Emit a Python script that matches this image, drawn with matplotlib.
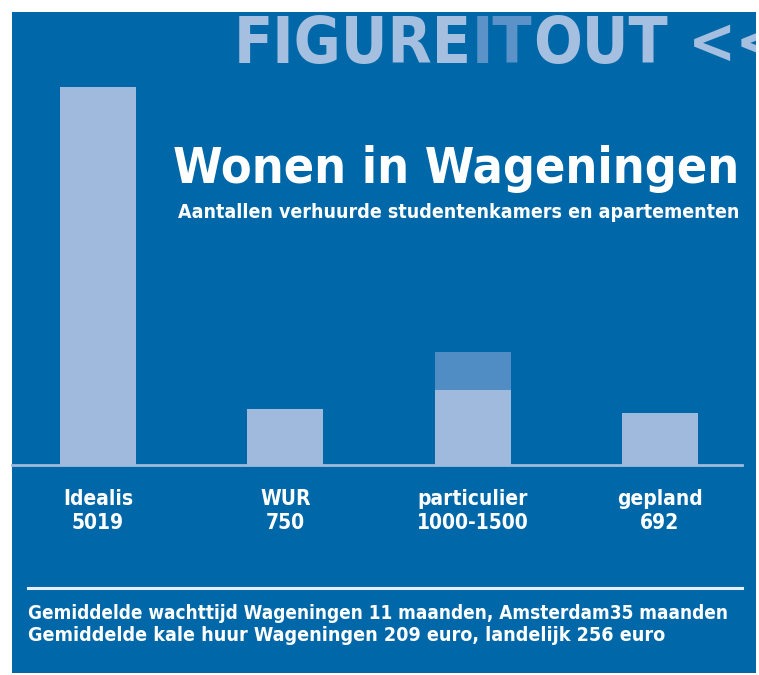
import matplotlib
matplotlib.use('Agg')
import matplotlib.pyplot as plt
from matplotlib.patches import Rectangle

# data
categories = ['Idealis', 'WUR', 'particulier', 'gepland']
value_labels = ['5019', '750', '1000-1500', '692']
base_values = [5019, 750, 1000, 692]
extra_values = [0, 0, 500, 0]   # range part of 'particulier'
footer_lines = ['Gemiddelde wachttijd Wageningen 11 maanden, Amsterdam35 maanden',
                'Gemiddelde kale huur Wageningen 209 euro, landelijk 256 euro']

BLUE = '#0068a8'
LIGHT = '#a0badd'
MID = '#4f8dc4'
HEAD = '#a4bfdf'
HEAD_DARK = '#5b93c8'

plt.rcParams['font.family'] = 'DejaVu Sans'
plt.rcParams['font.stretch'] = 'condensed'
plt.rcParams['font.weight'] = 'bold'

W, H = 759, 675
fig = plt.figure(figsize=(W / 100, H / 100), dpi=100)
fig.patch.set_facecolor('white')


def fx(px):
    return px / W


def fy(py):
    return 1 - py / H


# blue panel
panel = Rectangle((fx(12), fy(673)), fx(756) - fx(12), fy(12) - fy(673),
                  transform=fig.transFigure, facecolor=BLUE, edgecolor='none', zorder=-10)
fig.patches.append(panel)

# header, clipped at the top of the panel
t1 = fig.text(fx(234), fy(63), 'FIGURE', color=HEAD, fontsize=46,
              ha='left', va='baseline', fontweight='bold')
t1.set_clip_path(panel)
fig.canvas.draw()
r = fig.canvas.get_renderer()
bb = t1.get_window_extent(r)
t2 = fig.text(bb.x1 / W, fy(63), 'IT', color=HEAD_DARK, fontsize=46,
              ha='left', va='baseline', fontweight='bold')
t2.set_clip_path(panel)
bb = t2.get_window_extent(r)
t3 = fig.text(bb.x1 / W, fy(63), 'OUT', color=HEAD, fontsize=46,
              ha='left', va='baseline', fontweight='bold')
t3.set_clip_path(panel)
t4 = fig.text(fx(688), fy(63), '<<', color=HEAD, fontsize=46,
              ha='left', va='baseline', fontweight='bold')
t4.set_clip_path(panel)

# bar axes: baseline at y=465 px, 5019 reaches y=87 px
ax_left, ax_right = 12, 742
ax = fig.add_axes([fx(ax_left), fy(465), fx(ax_right) - fx(ax_left), (465 - 87) / H])
ax.set_facecolor('none')
step = 187.3
x0 = (98 - ax_left) / step
ax.set_xlim(-x0, -x0 + (ax_right - ax_left) / step)
ax.set_ylim(0, 5019)
xs = range(len(categories))
ax.bar(xs, base_values, width=76 / step, color=LIGHT, zorder=2)
ax.bar(xs, extra_values, bottom=base_values, width=76 / step, color=MID, zorder=2)
ax.axhline(0, color=LIGHT, lw=2, zorder=3, clip_on=False)
for s in ax.spines.values():
    s.set_visible(False)
ax.set_xticks([])
ax.set_yticks([])

for x, c, v in zip(xs, categories, value_labels):
    ax.annotate(c + '\n' + v, (x, 0), xytext=(0, -17), textcoords='offset points',
                ha='center', va='top', color='white', fontsize=15,
                fontweight='bold', linespacing=1.28, annotation_clip=False)

# title
fig.text(fx(739), fy(183), 'Wonen in Wageningen', color='white', fontsize=36,
         ha='right', va='baseline', fontweight='bold')
fig.text(fx(739), fy(218), 'Aantallen verhuurde studentenkamers en apartementen',
         color='white', fontsize=14, ha='right', va='baseline', fontweight='bold')

# separator and footer
fig.add_artist(plt.Line2D([fx(28), fx(742)], [fy(588), fy(588)], color='#e8eef7',
                          lw=2.2, transform=fig.transFigure))
fig.text(fx(28), fy(619), footer_lines[0], color='white', fontsize=13.6,
         ha='left', va='baseline', fontweight='bold')
fig.text(fx(28), fy(641), footer_lines[1], color='white', fontsize=14.1,
         ha='left', va='baseline', fontweight='bold')

fig.savefig('out.png', dpi=100, facecolor='white')
